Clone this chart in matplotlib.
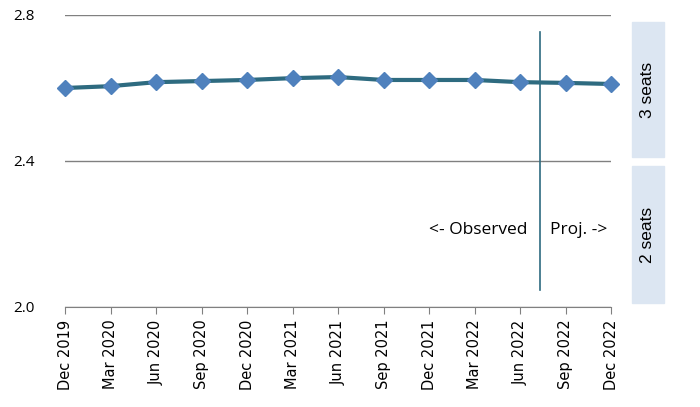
import numpy as np
import matplotlib.pyplot as plt
from matplotlib.patches import Rectangle

quartale = ['Dec 2019', 'Mar 2020', 'Jun 2020', 'Sep 2020', 'Dec 2020', 'Mar 2021',
            'Jun 2021', 'Sep 2021', 'Dec 2021', 'Mar 2022', 'Jun 2022', 'Sep 2022', 'Dec 2022']
werte = [2.600, 2.605, 2.616, 2.619, 2.622, 2.627, 2.630, 2.622, 2.622, 2.622, 2.616, 2.614, 2.611]
y_ticks = [2.0, 2.4, 2.8]
trenn_pos = 10.43  # zwischen Jun 2022 und Sep 2022

fig = plt.figure(figsize=(7, 4.07), dpi=100)
ax = fig.add_axes([65 / 700, 1 - 307 / 407, 546 / 700, 292 / 407])

x = np.arange(len(quartale))
ax.plot(x, werte, '-', color='#2e6b80', lw=3, zorder=3, clip_on=False)
ax.plot(x, werte, 'D', color='#4f81bd', ms=8, mec='#4f81bd', zorder=4, clip_on=False)

ax.set_xlim(0, len(quartale) - 1)
ax.set_ylim(2.0, 2.8)
ax.set_yticks(y_ticks)
ax.set_yticklabels(['2.0', '2.4', '2.8'], fontsize=11, fontfamily='Open Sans')
ax.set_xticks(x)
ax.set_xticklabels(quartale, rotation=90, fontsize=10.5, fontfamily='DejaVu Sans')
ax.tick_params(axis='y', length=0, pad=22)
ax.tick_params(axis='x', length=5, color='#808080', pad=4)
for s in ['top', 'right', 'left']:
    ax.spines[s].set_visible(False)
ax.spines['bottom'].set_color('#808080')
ax.grid(axis='y', color='#808080', lw=1)
ax.set_axisbelow(True)

# Trennlinie beobachtet / projiziert
ax.plot([trenn_pos, trenn_pos], [2.047, 2.754], color='#2e6b80', lw=1.2)
ax.text(trenn_pos - 0.26, 2.21, '<- Observed', ha='right', va='center', fontsize=12.5, fontfamily='Open Sans')
ax.text(trenn_pos + 0.24, 2.21, 'Proj. ->', ha='left', va='center', fontsize=12.5, fontfamily='Open Sans')

# Seitenboxen
for y0, y1, txt in [(22, 157, '3 seats'), (166, 303, '2 seats')]:
    fig.patches.append(Rectangle((632 / 700, 1 - y1 / 407), 32 / 700, (y1 - y0) / 407,
                                 transform=fig.transFigure, color='#dce6f2', zorder=0))
    fig.text(648 / 700, 1 - (y0 + y1) / 2 / 407, txt, rotation=90, ha='center', va='center',
             fontsize=12.5, fontfamily='Liberation Sans')

plt.savefig('out.png', dpi=100)
